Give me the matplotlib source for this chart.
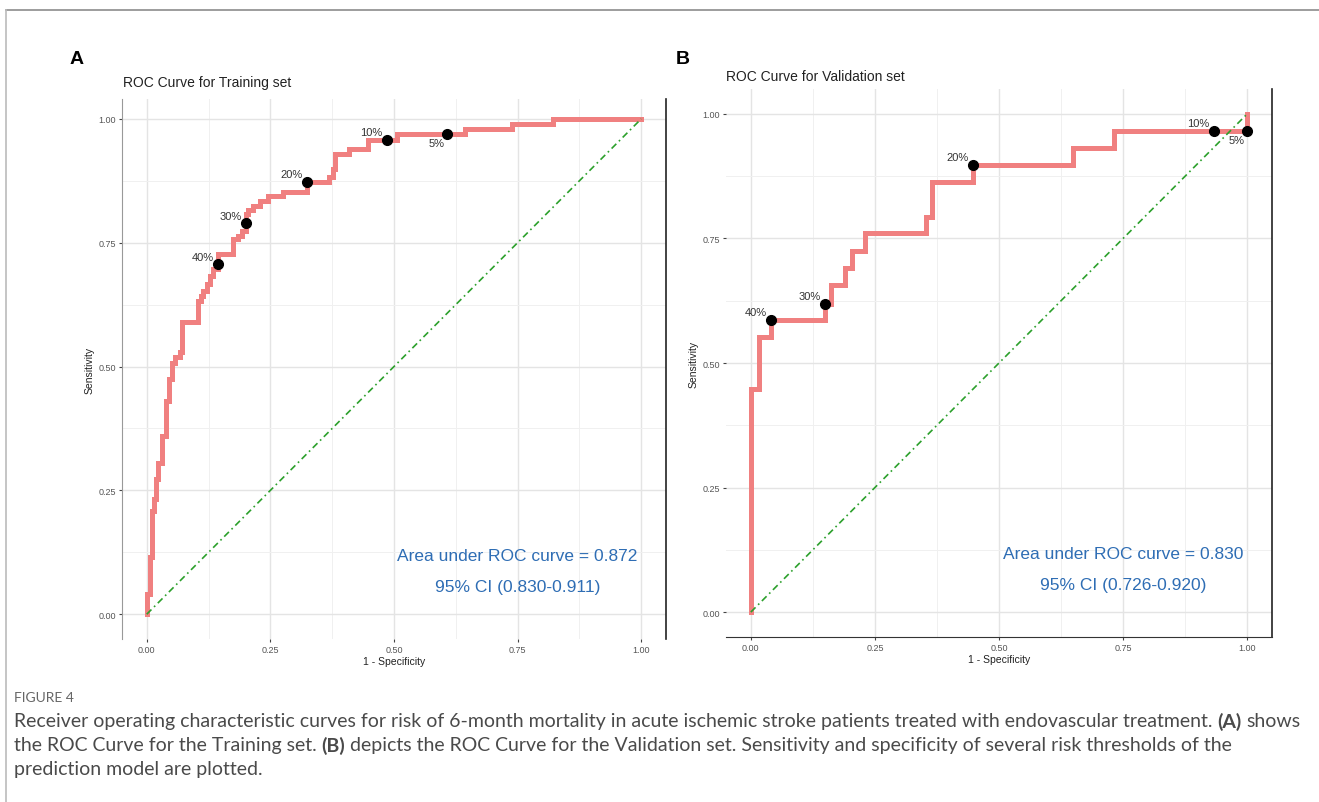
import matplotlib
matplotlib.use("Agg")
import matplotlib.pyplot as plt
from matplotlib.lines import Line2D
from matplotlib.ticker import MultipleLocator, FormatStrFormatter

plt.rcParams['font.family'] = ['Liberation Sans', 'DejaVu Sans']

# ROC step corners (1 - specificity, sensitivity)
train_fpr = [0.0, 0.006, 0.011, 0.015, 0.018, 0.023, 0.031, 0.038, 0.0445, 0.051,
             0.058, 0.067, 0.0715, 0.104, 0.109, 0.114, 0.122, 0.1275, 0.133, 0.145,
             0.175, 0.185, 0.192, 0.200, 0.205, 0.215, 0.229, 0.2455, 0.276, 0.3245,
             0.369, 0.377, 0.381, 0.408, 0.448, 0.507, 0.644, 0.738, 0.822, 1.0]
train_tpr = [0.0, 0.040, 0.115, 0.209, 0.232, 0.273, 0.306, 0.359, 0.431, 0.475,
             0.508, 0.519, 0.529, 0.590, 0.633, 0.643, 0.653, 0.667, 0.683, 0.697,
             0.727, 0.758, 0.764, 0.774, 0.808, 0.815, 0.825, 0.835, 0.844, 0.853,
             0.873, 0.882, 0.899, 0.929, 0.939, 0.958, 0.970, 0.980, 0.990, 1.0]
train_cut_fpr = [0.145, 0.200, 0.3245, 0.485, 0.608]
train_cut_tpr = [0.706, 0.789, 0.873, 0.958, 0.969]

valid_fpr = [0.0, 0.0167, 0.041, 0.150, 0.162, 0.190, 0.204, 0.230, 0.353, 0.365,
             0.447, 0.649, 0.731, 1.0, 1.0]
valid_tpr = [0.0, 0.448, 0.552, 0.586, 0.619, 0.656, 0.690, 0.725, 0.760, 0.794,
             0.864, 0.897, 0.932, 0.966, 1.0]
valid_cut_fpr = [0.041, 0.150, 0.447, 0.933, 1.0]
valid_cut_tpr = [0.586, 0.619, 0.897, 0.966, 0.966]

cut_labels = ["40%", "30%", "20%", "10%", "5%"]
train_auc = ["Area under ROC curve = 0.872", "95% CI (0.830-0.911)"]
valid_auc = ["Area under ROC curve = 0.830", "95% CI (0.726-0.920)"]

W, H = 1319, 803
fig = plt.figure(figsize=(W / 100, H / 100), dpi=100)


def px(x, y):
    return x / W, 1 - y / H


def draw_panel(ax, fpr, tpr, cut_x, cut_y, auc, ylim_top):
    ax.set_xlim(-0.05, 1.05)
    ax.set_ylim(-0.05, ylim_top)
    ax.xaxis.set_major_locator(MultipleLocator(0.25))
    ax.yaxis.set_major_locator(MultipleLocator(0.25))
    ax.xaxis.set_minor_locator(MultipleLocator(0.125))
    ax.yaxis.set_minor_locator(MultipleLocator(0.125))
    ax.xaxis.set_major_formatter(FormatStrFormatter('%.2f'))
    ax.yaxis.set_major_formatter(FormatStrFormatter('%.2f'))
    ax.grid(which='major', color='#e4e4e4', lw=1.0)
    ax.grid(which='minor', color='#f0f0f0', lw=0.7)
    ax.set_axisbelow(True)
    ax.tick_params(which='major', length=2.5, width=0.8, color='#444444',
                   labelsize=6.5, labelcolor='#555555', pad=2)
    ax.tick_params(which='minor', length=0)

    ax.step(fpr, tpr, where='pre', color='#f08080', lw=3.6, solid_joinstyle='miter', zorder=3)
    ax.plot([0, 1], [0, 1], color='#2ca02c', lw=1.2, ls=(0, (4, 2.2, 1, 2.2)), zorder=4)
    ax.plot(cut_x, cut_y, 'o', color='black', ms=7, zorder=5)
    for lab, x, y in zip(cut_labels, cut_x, cut_y):
        if lab == "5%":
            ax.annotate(lab, (x, y), xytext=(-2, -3), textcoords='offset points',
                        ha='right', va='top', fontsize=8, color='#333333', zorder=6)
        else:
            ax.annotate(lab, (x, y), xytext=(-3, 2), textcoords='offset points',
                        ha='right', va='bottom', fontsize=8, color='#333333', zorder=6)
    ax.text(0.75, 0.118, auc[0], ha='center', va='center', fontsize=12.5, color='#2e6db4')
    ax.text(0.75, 0.056, auc[1], ha='center', va='center', fontsize=12.5, color='#2e6db4')
    ax.set_xlabel("1 - Specificity", fontsize=7.5, color='#222222', labelpad=1)
    ax.set_ylabel("Sensitivity", fontsize=7.5, color='#222222', labelpad=3)


# panel A
axA = fig.add_axes([122 / W, (H - 640) / H, 544 / W, 540 / H])
draw_panel(axA, train_fpr, train_tpr, train_cut_fpr, train_cut_tpr, train_auc, 1.04)
for s in ['top', 'bottom']:
    axA.spines[s].set_visible(False)
axA.spines['left'].set_color('#999999')
axA.spines['right'].set_color('#222222')
axA.spines['right'].set_linewidth(1.2)

# panel B
axB = fig.add_axes([726 / W, (H - 638) / H, 546 / W, 548 / H])
draw_panel(axB, valid_fpr, valid_tpr, valid_cut_fpr, valid_cut_tpr, valid_auc, 1.05)
for s in ['top', 'left']:
    axB.spines[s].set_visible(False)
axB.spines['bottom'].set_color('#333333')
axB.spines['right'].set_color('#222222')
axB.spines['right'].set_linewidth(1.2)

# panel letters and titles
fig.text(*px(70, 60), "A", fontsize=14, fontweight='bold', va='center', ha='left')
fig.text(*px(676, 60), "B", fontsize=14, fontweight='bold', va='center', ha='left')
fig.text(*px(123, 83), "ROC Curve for Training set", fontsize=10, va='center', color='#222222')
fig.text(*px(726, 77), "ROC Curve for Validation set", fontsize=10, va='center', color='#222222')

# page frame
fig.add_artist(Line2D([6 / W, 1], [1 - 11 / H, 1 - 11 / H], color='#8c8c8c', lw=1.2))
fig.add_artist(Line2D([6 / W, 6 / W], [0, 1 - 11 / H], color='#bbbbbb', lw=1.2))

# caption
cap_font = ['Lato', 'DejaVu Sans']
cap_color = '#4a4a4a'
cap_size = 14
fig.text(*px(14, 698), "FIGURE 4", fontsize=10, color='#666666', va='center',
         family=cap_font)

renderer = fig.canvas.get_renderer()


def text_width(s, weight):
    t = fig.text(0, 0, s, fontsize=cap_size, fontweight=weight, family=cap_font)
    w = t.get_window_extent(renderer=renderer).width
    t.remove()
    return w


space_w = text_width("a a", 'normal') - text_width("aa", 'normal')


def caption_line(y, parts):
    x = 14
    for s, weight in parts:
        t = fig.text(*px(x, y), s, fontsize=cap_size, fontweight=weight,
                     color=cap_color, va='center', family=cap_font)
        x += t.get_window_extent(renderer=renderer).width + space_w


caption_line(722, [("Receiver operating characteristic curves for risk of 6-month mortality in acute "
                    "ischemic stroke patients treated with endovascular treatment.", 'normal'),
                   ("(A)", 'bold'), ("shows", 'normal')])
caption_line(746, [("the ROC Curve for the Training set.", 'normal'), ("(B)", 'bold'),
                   ("depicts the ROC Curve for the Validation set. Sensitivity and specificity "
                    "of several risk thresholds of the", 'normal')])
caption_line(770, [("prediction model are plotted.", 'normal')])

fig.savefig("out.png", dpi=100)
